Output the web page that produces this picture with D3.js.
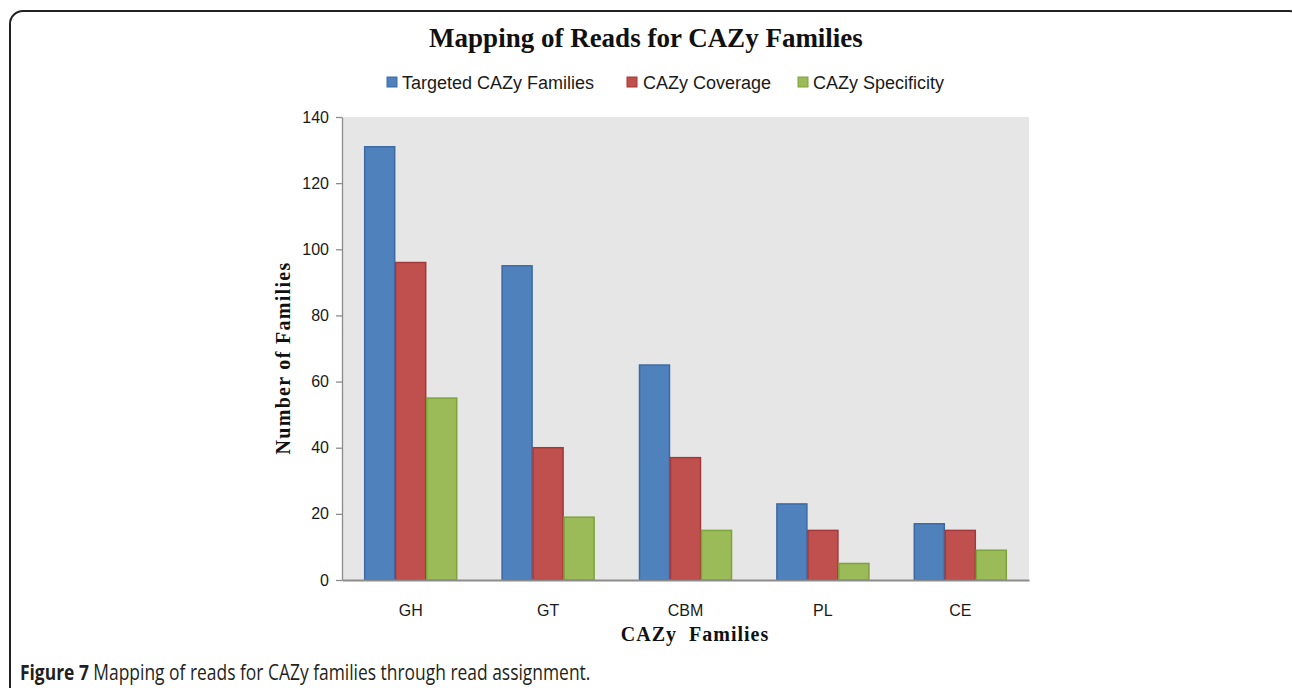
<!DOCTYPE html>
<html>
<head>
<meta charset="utf-8">
<script src="https://cdn.jsdelivr.net/npm/d3@7"></script>
<style>
  body { margin: 0; background: #fff; }
  svg { display: block; }
</style>
</head>
<body>
<div id="chart"></div>
<script>
const categories = ["GH", "GT", "CBM", "PL", "CE"];
const seriesNames = ["Targeted CAZy Families", "CAZy Coverage", "CAZy Specificity"];
const targeted = [131, 95, 65, 23, 17];
const coverage = [96, 40, 37, 15, 15];
const specificity = [55, 19, 15, 5, 9];
const yTicks = [0, 20, 40, 60, 80, 100, 120, 140];

const fills = ["#4f81bd", "#c0504d", "#9bbb59"];
const strokes = ["#3d6aa3", "#a3393a", "#7ea23c"];

const outerWidth = 1292;
const outerHeight = 688;
const plot = { left: 342, top: 117, right: 1029, bottom: 580 };

const svg = d3
  .select("#chart")
  .append("svg")
  .attr("width", outerWidth)
  .attr("height", outerHeight);

// frame round the figure
svg
  .append("rect")
  .attr("x", 10)
  .attr("y", 11)
  .attr("width", 1292)
  .attr("height", 700)
  .attr("rx", 13)
  .attr("fill", "none")
  .attr("stroke", "#222")
  .attr("stroke-width", 2);

svg
  .append("text")
  .attr("x", 646)
  .attr("y", 47)
  .attr("text-anchor", "middle")
  .style("font-family", "'Liberation Serif', 'DejaVu Serif', serif")
  .style("font-weight", "bold")
  .style("font-size", "27px")
  .attr("fill", "#111")
  .text("Mapping of Reads for CAZy Families");

const xScale = d3
  .scaleBand()
  .domain(categories)
  .range([plot.left, plot.right])
  .paddingInner(0.323)
  .paddingOuter(0.1615);

const xSub = d3
  .scaleBand()
  .domain(d3.range(seriesNames.length))
  .range([0, xScale.bandwidth()]);

const yScale = d3
  .scaleLinear()
  .domain([0, 140])
  .range([plot.bottom, plot.top]);

svg
  .append("rect")
  .attr("x", plot.left)
  .attr("y", plot.top)
  .attr("width", plot.right - plot.left)
  .attr("height", plot.bottom - plot.top)
  .attr("fill", "#e6e6e6");

const rows = categories.map(function(c, i) {
  return { cat: c, values: [targeted[i], coverage[i], specificity[i]] };
});

const groups = svg
  .selectAll(".group")
  .data(rows)
  .enter()
  .append("g")
  .attr("class", "group")
  .attr("transform", function(d) {
    return "translate(" + xScale(d.cat) + ",0)";
  });

groups
  .selectAll("rect")
  .data(function(d) {
    return d.values.map(function(v, k) {
      return { k: k, v: v };
    });
  })
  .enter()
  .append("rect")
  .attr("x", function(d) {
    return xSub(d.k) + 0.5;
  })
  .attr("y", function(d) {
    return yScale(d.v);
  })
  .attr("width", xSub.bandwidth() - 1)
  .attr("height", function(d) {
    return yScale(0) - yScale(d.v);
  })
  .attr("fill", function(d) {
    return fills[d.k];
  })
  .attr("stroke", function(d) {
    return strokes[d.k];
  })
  .attr("stroke-width", 1.5);

const yAxis = d3
  .axisLeft(yScale)
  .tickValues(yTicks)
  .tickSize(6)
  .tickSizeOuter(0)
  .tickPadding(7);

const yAxisGroup = svg
  .append("g")
  .attr("transform", "translate(" + plot.left + ",0)")
  .call(yAxis);

yAxisGroup.selectAll("path, line").attr("stroke", "#8c8c8c").attr("stroke-width", 1.3);
yAxisGroup
  .selectAll("text")
  .style("font-family", "'Liberation Sans', Arial, sans-serif")
  .style("font-size", "16px")
  .attr("fill", "#1a1a1a");

const xAxis = d3.axisBottom(xScale).tickSize(0).tickSizeOuter(0).tickPadding(25);

const xAxisGroup = svg
  .append("g")
  .attr("transform", "translate(0," + plot.bottom + ")")
  .call(xAxis);

xAxisGroup.select("path").attr("stroke", "#8c8c8c").attr("stroke-width", 2);
xAxisGroup
  .selectAll("text")
  .style("font-family", "'Liberation Sans', Arial, sans-serif")
  .style("font-size", "16px")
  .attr("fill", "#1a1a1a");

// axis titles
svg
  .append("text")
  .attr("transform", "translate(290,358) rotate(-90)")
  .attr("text-anchor", "middle")
  .style("font-family", "'Liberation Serif', 'DejaVu Serif', serif")
  .style("font-weight", "bold")
  .style("font-size", "20px")
  .style("letter-spacing", "1.3px")
  .attr("fill", "#111")
  .text("Number of Families");

svg
  .append("text")
  .attr("x", 695)
  .attr("y", 641)
  .attr("text-anchor", "middle")
  .style("font-family", "'Liberation Serif', 'DejaVu Serif', serif")
  .style("font-weight", "bold")
  .style("font-size", "20px")
  .style("letter-spacing", "1px")
  .style("white-space", "pre")
  .attr("fill", "#111")
  .text("CAZy  Families");

// legend
const legendX = [387, 627, 798];
const legend = svg
  .selectAll(".legend")
  .data(seriesNames)
  .enter()
  .append("g")
  .attr("class", "legend")
  .attr("transform", function(d, i) {
    return "translate(" + legendX[i] + ",77)";
  });

legend
  .append("rect")
  .attr("width", 10)
  .attr("height", 10)
  .attr("fill", function(d, i) {
    return fills[i];
  })
  .attr("stroke", function(d, i) {
    return strokes[i];
  });

legend
  .append("text")
  .attr("x", function(d, i) {
    return i === 1 ? 16 : 15;
  })
  .attr("y", 11.5)
  .style("font-family", "'Liberation Sans', Arial, sans-serif")
  .style("font-size", "18px")
  .attr("fill", "#1a1a1a")
  .text(function(d) {
    return d;
  });

// caption, squeezed to the width of the condensed original face
const caption = svg
  .append("text")
  .attr("transform", "translate(20,680) scale(0.83,1)")
  .style("font-family", "'Open Sans', sans-serif")
  .style("font-size", "21px")
  .attr("fill", "#231f20");

caption.append("tspan").style("font-weight", "bold").text("Figure 7");
caption.append("tspan").text(" Mapping of reads for CAZy families through read assignment.");
</script>
</body>
</html>
